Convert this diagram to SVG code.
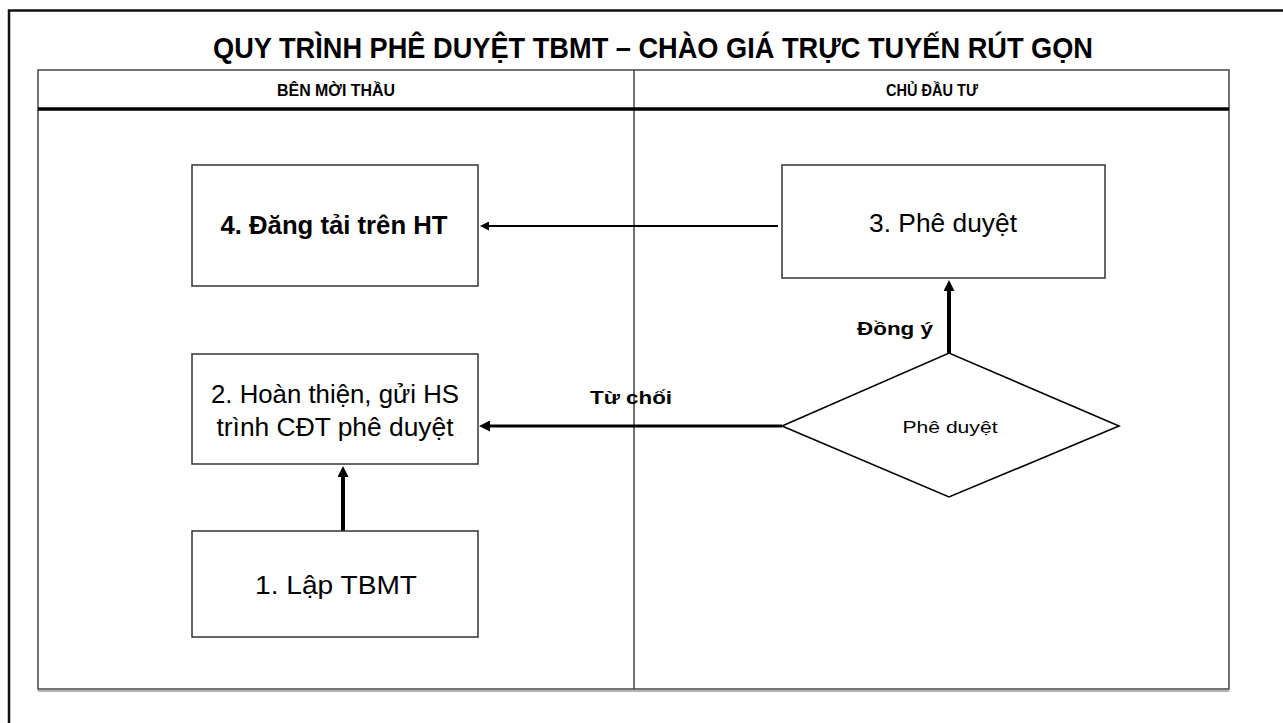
<svg xmlns="http://www.w3.org/2000/svg" width="1283" height="723" viewBox="0 0 1283 723">
  <style>
    .frame { stroke: #111; stroke-width: 2.5; fill: none; }
    .tbl { stroke: #444; stroke-width: 1.5; fill: none; }
    .hdr { stroke: #000; stroke-width: 3.5; }
    .box { fill: #fff; stroke: #333; stroke-width: 1.5; }
    .dia { fill: #fff; stroke: #000; stroke-width: 1.6; }
    .t { font-family: "Liberation Sans", Arial, sans-serif; fill: #000; }
    .b { font-weight: bold; }
    .c { stroke: #000; fill: none; }
  </style>
  <defs>
    <marker id="ah" viewBox="0 0 10 10" refX="0" refY="5" markerWidth="10" markerHeight="9" markerUnits="userSpaceOnUse" orient="auto">
      <path d="M0,0 L10,5 L0,10 z" fill="#000"/>
    </marker>
    <marker id="ahb" viewBox="0 0 10 10" refX="0" refY="5" markerWidth="12" markerHeight="11" markerUnits="userSpaceOnUse" orient="auto">
      <path d="M0,0 L10,5 L0,10 z" fill="#000"/>
    </marker>
  </defs>

  <g id="frame">
    <polyline class="frame" points="9,723 9,10.5 1283,10.5"/>
  </g>

  <g id="title">
    <text class="t b" x="653" y="58" font-size="30" text-anchor="middle" textLength="880" lengthAdjust="spacingAndGlyphs">QUY TRÌNH PHÊ DUYỆT TBMT – CHÀO GIÁ TRỰC TUYẾN RÚT GỌN</text>
  </g>

  <g id="table">
    <rect class="tbl" x="38" y="70" width="1191" height="619"/>
    <line class="tbl" x1="634" y1="70" x2="634" y2="689"/>
    <line class="hdr" x1="38" y1="109" x2="1229" y2="109"/>
    <line stroke="#666" stroke-width="1" x1="38" y1="691" x2="1229" y2="691"/>
    <text class="t b" x="336" y="96" font-size="16" text-anchor="middle" textLength="118" lengthAdjust="spacingAndGlyphs">BÊN MỜI THẦU</text>
    <text class="t b" x="932" y="96" font-size="16" text-anchor="middle" textLength="92" lengthAdjust="spacingAndGlyphs">CHỦ ĐẦU TƯ</text>
  </g>

  <g id="connectors">
    <path class="c" stroke-width="2" d="M778,226 L489,226" marker-end="url(#ah)"/>
    <path class="c" stroke-width="3" d="M782,426 L490,426" marker-end="url(#ahb)"/>
    <path class="c" stroke-width="4" d="M949,353 L949,291" marker-end="url(#ahb)"/>
    <path class="c" stroke-width="4" d="M343,531 L343,477" marker-end="url(#ahb)"/>
    <text class="t b" x="895" y="335" font-size="19" text-anchor="middle" textLength="76" lengthAdjust="spacingAndGlyphs">Đồng ý</text>
    <text class="t b" x="631" y="404" font-size="19" text-anchor="middle" textLength="82" lengthAdjust="spacingAndGlyphs">Từ chối</text>
  </g>

  <g id="node4">
    <rect class="box" x="192" y="165" width="286" height="121"/>
    <text class="t b" x="334" y="234" font-size="26" text-anchor="middle" textLength="227" lengthAdjust="spacingAndGlyphs">4. Đăng tải trên HT</text>
  </g>

  <g id="node3">
    <rect class="box" x="782" y="165" width="323" height="113"/>
    <text class="t" x="943" y="232" font-size="26" text-anchor="middle" textLength="148" lengthAdjust="spacingAndGlyphs">3. Phê duyệt</text>
  </g>

  <g id="node2">
    <rect class="box" x="192" y="354" width="286" height="110"/>
    <text class="t" x="335" y="403" font-size="26" text-anchor="middle" textLength="248" lengthAdjust="spacingAndGlyphs">2. Hoàn thiện, gửi HS</text>
    <text class="t" x="335" y="436" font-size="26" text-anchor="middle" textLength="237" lengthAdjust="spacingAndGlyphs">trình CĐT phê duyệt</text>
  </g>

  <g id="node1">
    <rect class="box" x="192" y="531" width="286" height="106"/>
    <text class="t" x="336" y="594" font-size="26" text-anchor="middle" textLength="162" lengthAdjust="spacingAndGlyphs">1. Lập TBMT</text>
  </g>

  <g id="decision">
    <polygon class="dia" points="782,426 949,353 1119,426 949,497"/>
    <text class="t" x="950" y="433" font-size="17" text-anchor="middle" textLength="95" lengthAdjust="spacingAndGlyphs">Phê duyệt</text>
  </g>
</svg>
